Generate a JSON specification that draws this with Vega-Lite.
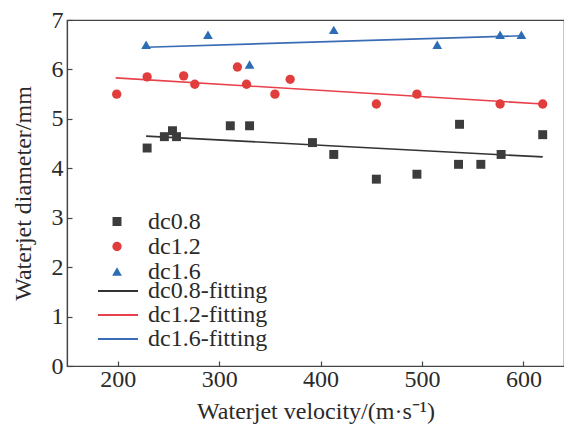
{
  "$schema": "https://vega.github.io/schema/vega-lite/v6.json",
  "autosize": "none",
  "width": 497,
  "height": 346,
  "padding": {"left": 67, "top": 20, "right": 0, "bottom": 63},
  "background": "white",
  "config": {
    "view": {"stroke": "#444", "strokeWidth": 1.2},
    "axis": {
      "labelFont": "Liberation Serif", "titleFont": "Liberation Serif",
      "labelFontSize": 24, "titleFontSize": 24, "labelColor": "#2a2a2a", "titleColor": "#2a2a2a",
      "titleFontWeight": "normal", "domainColor": "#444", "tickColor": "#444",
      "grid": false, "tickSize": -5, "domainWidth": 1.2, "tickWidth": 1.2
    },
    "legend": {
      "labelFont": "Liberation Serif", "labelFontSize": 24, "labelColor": "#2a2a2a", "padding": 0
    }
  },
  "data": {"values": [
    {"v": 228, "d": 6.5, "s": "dc1.6"},
    {"v": 289, "d": 6.7, "s": "dc1.6"},
    {"v": 330, "d": 6.1, "s": "dc1.6"},
    {"v": 413, "d": 6.8, "s": "dc1.6"},
    {"v": 515, "d": 6.5, "s": "dc1.6"},
    {"v": 577, "d": 6.7, "s": "dc1.6"},
    {"v": 598, "d": 6.7, "s": "dc1.6"},
    {"v": 199, "d": 5.5, "s": "dc1.2"},
    {"v": 229, "d": 5.85, "s": "dc1.2"},
    {"v": 265, "d": 5.87, "s": "dc1.2"},
    {"v": 276, "d": 5.7, "s": "dc1.2"},
    {"v": 318, "d": 6.05, "s": "dc1.2"},
    {"v": 327, "d": 5.7, "s": "dc1.2"},
    {"v": 355, "d": 5.5, "s": "dc1.2"},
    {"v": 370, "d": 5.8, "s": "dc1.2"},
    {"v": 455, "d": 5.3, "s": "dc1.2"},
    {"v": 495, "d": 5.5, "s": "dc1.2"},
    {"v": 577, "d": 5.3, "s": "dc1.2"},
    {"v": 619, "d": 5.3, "s": "dc1.2"},
    {"v": 229, "d": 4.41, "s": "dc0.8"},
    {"v": 246, "d": 4.64, "s": "dc0.8"},
    {"v": 254, "d": 4.76, "s": "dc0.8"},
    {"v": 258, "d": 4.64, "s": "dc0.8"},
    {"v": 311, "d": 4.86, "s": "dc0.8"},
    {"v": 330, "d": 4.86, "s": "dc0.8"},
    {"v": 392, "d": 4.52, "s": "dc0.8"},
    {"v": 413, "d": 4.28, "s": "dc0.8"},
    {"v": 455, "d": 3.78, "s": "dc0.8"},
    {"v": 495, "d": 3.88, "s": "dc0.8"},
    {"v": 537, "d": 4.89, "s": "dc0.8"},
    {"v": 536, "d": 4.08, "s": "dc0.8"},
    {"v": 558, "d": 4.08, "s": "dc0.8"},
    {"v": 578, "d": 4.28, "s": "dc0.8"},
    {"v": 619, "d": 4.68, "s": "dc0.8"},
    {"v": 228, "d": 4.65, "s": "dc0.8-fitting"},
    {"v": 619, "d": 4.23, "s": "dc0.8-fitting"},
    {"v": 198, "d": 5.83, "s": "dc1.2-fitting"},
    {"v": 619, "d": 5.3, "s": "dc1.2-fitting"},
    {"v": 228, "d": 6.45, "s": "dc1.6-fitting"},
    {"v": 598, "d": 6.68, "s": "dc1.6-fitting"}
  ]},
  "encoding": {
    "x": {"field": "v", "type": "quantitative", "scale": {"domain": [150, 640], "nice": false, "zero": false},
          "axis": {"values": [200, 300, 400, 500, 600], "title": "Waterjet velocity/(m·s⁻¹)", "labelPadding": 6, "titlePadding": 8}},
    "y": {"field": "d", "type": "quantitative", "scale": {"domain": [0, 7], "nice": false},
          "axis": {"values": [0, 1, 2, 3, 4, 5, 6, 7], "title": "Waterjet diameter/mm", "labelPadding": 9, "titlePadding": 16}}
  },
  "layer": [
    {
      "transform": [{"filter": "indexof(datum.s, 'fitting') >= 0"}],
      "mark": {"type": "line", "strokeWidth": 1.6},
      "encoding": {
        "color": {"field": "s", "type": "nominal",
          "scale": {"domain": ["dc0.8-fitting", "dc1.2-fitting", "dc1.6-fitting"], "range": ["#333333", "#e8414b", "#3a6cb5"]},
          "legend": {
            "title": null, "orient": "none", "legendX": 30, "legendY": 259,
            "symbolType": "stroke", "symbolSize": 1600, "symbolStrokeWidth": 2, "clipHeight": 24,
            "labelOffset": 9, "rowPadding": 0
          }},
        "detail": {"field": "s"}
      }
    },
    {
      "transform": [{"filter": "indexof(datum.s, 'fitting') < 0"}],
      "mark": {"type": "point", "filled": true, "opacity": 1},
      "encoding": {
        "color": {"field": "s", "type": "nominal",
          "scale": {"domain": ["dc0.8", "dc1.2", "dc1.6"], "range": ["#3c3c3c", "#e23d3d", "#2d6db5"]},
          "legend": {
            "title": null, "orient": "none", "legendX": 38, "legendY": 190,
            "symbolSize": 80, "symbolOpacity": 1, "labelOffset": 19, "clipHeight": 23, "rowPadding": 0
          }},
        "shape": {"field": "s", "type": "nominal",
          "scale": {"domain": ["dc0.8", "dc1.2", "dc1.6"], "range": ["square", "circle", "triangle-up"]}},
        "size": {"field": "s", "type": "nominal", "legend": null,
          "scale": {"domain": ["dc0.8", "dc1.2", "dc1.6"], "range": [80, 95, 115]}}
      }
    }
  ],
  "resolve": {"scale": {"color": "independent", "shape": "independent", "size": "independent"}, "legend": {"color": "independent"}}
}
